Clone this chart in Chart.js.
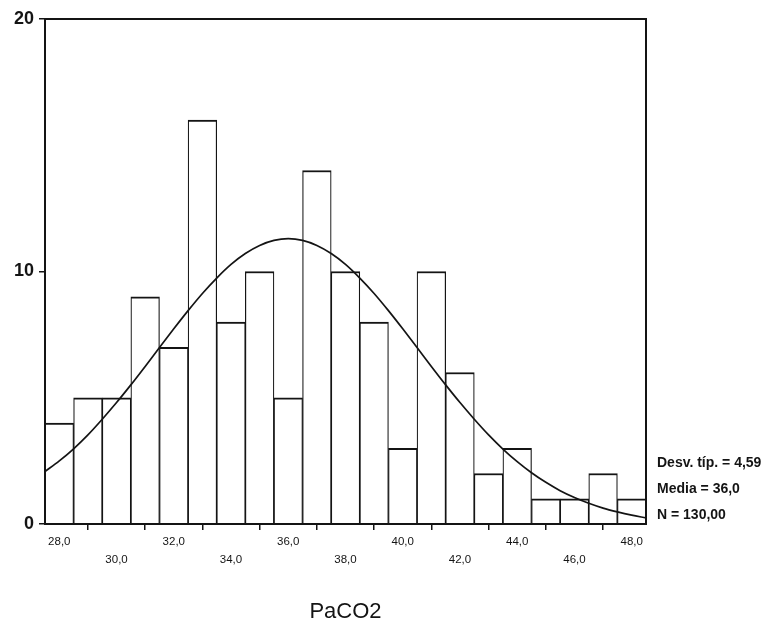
<!DOCTYPE html>
<html>
<head>
<meta charset="utf-8">
<script src="https://cdn.jsdelivr.net/npm/chart.js@4/dist/chart.umd.min.js"></script>
<style>
  html, body { margin: 0; padding: 0; background: #ffffff; }
  #wrap { width: 766px; height: 626px; }
</style>
</head>
<body>
<div id="wrap"><canvas id="c" width="766" height="626"></canvas></div>
<script>
// ---- data ----
const binCenters = [28, 29, 30, 31, 32, 33, 34, 35, 36, 37, 38, 39, 40, 41, 42, 43, 44, 45, 46, 47, 48];
const binCounts  = [ 4,  5,  5,  9,  7, 16,  8, 10,  5, 14, 10,  8,  3, 10,  6,  2,  3,  1,  1,  2,  1];

const curveX = [27.5, 28, 28.5, 29, 29.5, 30, 30.5, 31, 31.5, 32, 32.5, 33, 33.5, 34, 34.5, 35, 35.5, 36,
                36.5, 37, 37.5, 38, 38.5, 39, 39.5, 40, 40.5, 41, 41.5, 42, 42.5, 43, 43.5, 44, 44.5, 45,
                45.5, 46, 46.5, 47, 47.5, 48, 48.5];
const curveY = [2.08, 2.5, 2.98, 3.53, 4.15, 4.81, 5.51, 6.24, 6.99, 7.73, 8.45, 9.13, 9.74, 10.28, 10.71, 11.03, 11.23, 11.3,
                11.23, 11.03, 10.71, 10.28, 9.74, 9.13, 8.45, 7.73, 6.99, 6.24, 5.51, 4.81, 4.15, 3.53, 2.97, 2.47, 2.03, 1.65,
                1.32, 1.05, 0.82, 0.63, 0.48, 0.35, 0.24];

const xTickValues = [28, 30, 32, 34, 36, 38, 40, 42, 44, 46, 48];
const xTickLabels = ['28,0', '30,0', '32,0', '34,0', '36,0', '38,0', '40,0', '42,0', '44,0', '46,0', '48,0'];
const yTickValues = [0, 10, 20];
const yTickLabels = ['0', '10', '20'];

const statLabels = ['Desv. típ. = 4,59', 'Media = 36,0', 'N = 130,00'];
const xTitle = 'PaCO2';
// ---------------------------------------

const INK = '#141414';
const FONT = "'Liberation Sans', Arial, sans-serif";

const barData = binCenters.map((x, i) => ({ x: x, y: binCounts[i] }));
const lineData = curveX.map((x, i) => ({ x: x, y: curveY[i] }));

const framePlugin = {
  id: 'frame',
  afterDatasetsDraw(chart) {
    const a = chart.chartArea;
    const ctx = chart.ctx;
    ctx.save();
    ctx.strokeStyle = INK;
    ctx.lineWidth = 2;
    ctx.strokeRect(a.left, a.top, a.right - a.left, a.bottom - a.top);
    ctx.restore();
  }
};

const statsPlugin = {
  id: 'stats',
  afterDraw(chart) {
    const a = chart.chartArea;
    const ctx = chart.ctx;
    ctx.save();
    ctx.fillStyle = INK;
    ctx.font = "bold 14px " + FONT;
    ctx.textAlign = 'left';
    ctx.textBaseline = 'middle';
    const x = a.right + 11;
    const n = statLabels.length;
    statLabels.forEach((t, i) => {
      ctx.fillText(t, x, a.bottom - 9 - (n - 1 - i) * 26);
    });
    ctx.restore();
  }
};

new Chart(document.getElementById('c'), {
  type: 'bar',
  data: {
    datasets: [
      {
        type: 'line',
        data: lineData,
        borderColor: INK,
        borderWidth: 1.7,
        pointRadius: 0,
        cubicInterpolationMode: 'monotone',
        fill: false,
        order: 0
      },
      {
        type: 'bar',
        data: barData,
        backgroundColor: '#ffffff',
        borderColor: INK,
        borderWidth: { top: 2, left: 1.2, right: 1.2, bottom: 0 },
        borderSkipped: false,
        barPercentage: 1,
        categoryPercentage: 1,
        order: 1
      }
    ]
  },
  options: {
    responsive: false,
    animation: false,
    events: [],
    layout: { padding: { top: 19, right: 120, bottom: 0, left: 0 } },
    plugins: {
      legend: { display: false },
      tooltip: { enabled: false },
      title: { display: false }
    },
    scales: {
      x: {
        type: 'linear',
        min: 27.5,
        max: 48.5,
        offset: false,
        afterBuildTicks(scale) {
          scale.ticks = xTickValues.map(v => ({ value: v }));
        },
        afterFit(scale) { scale.height = 102; },
        border: { display: false },
        grid: { display: true, drawOnChartArea: false, drawTicks: true, tickLength: 6, color: INK, lineWidth: 1.5 },
        ticks: {
          autoSkip: false,
          maxRotation: 0,
          minRotation: 0,
          padding: 3,
          color: INK,
          font: { family: FONT, size: 11.5, lineHeight: '18px' },
          callback(value) {
            const i = xTickValues.indexOf(value);
            if (i < 0) return '';
            return (i % 2 === 0) ? xTickLabels[i] : ['', xTickLabels[i]];
          }
        },
        title: {
          display: true,
          text: xTitle,
          color: INK,
          font: { family: FONT, size: 22 },
          padding: { top: 0, bottom: 1 }
        }
      },
      y: {
        type: 'linear',
        min: 0,
        max: 20,
        afterBuildTicks(scale) {
          scale.ticks = yTickValues.map(v => ({ value: v }));
        },
        afterFit(scale) { scale.width = 45; },
        border: { display: false },
        grid: { display: true, drawOnChartArea: false, drawTicks: true, tickLength: 6, color: INK, lineWidth: 1.5 },
        ticks: {
          padding: 5,
          color: INK,
          font: { family: FONT, size: 18, weight: 'bold' },
          callback(value) {
            const i = yTickValues.indexOf(value);
            return i < 0 ? '' : yTickLabels[i];
          }
        }
      }
    }
  },
  plugins: [framePlugin, statsPlugin]
});
</script>
</body>
</html>
